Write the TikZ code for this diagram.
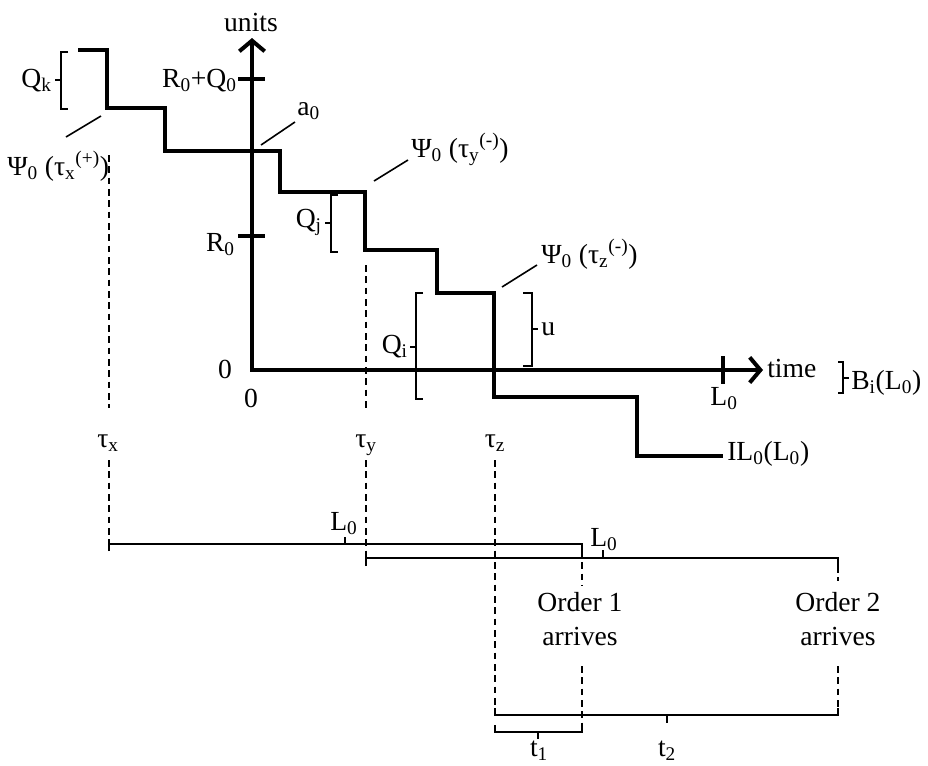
\documentclass[tikz,border=0pt]{standalone}
\usepackage{fontspec}
\setmainfont{Liberation Serif}
\usetikzlibrary{arrows.meta}
\newcommand{\lo}[1]{\textsubscript{#1}}
\newcommand{\hi}[1]{\textsuperscript{#1}}
\begin{document}
\begin{tikzpicture}[x=0.75pt,y=-0.75pt,every node/.style={font=\fontsize{20.7}{25}\selectfont,inner sep=0pt},
  stair/.style={line width=3pt},
  axis/.style={line width=3pt,{Straight Barb[length=8pt,width=19pt]}-{Straight Barb[length=8pt,width=19pt]}},
  thin/.style={line width=1.2pt},
  guide/.style={line width=1.5pt,dash pattern=on 5pt off 3.5pt}]
\useasboundingbox (0,0) rectangle (928,765);
% axes
\draw[axis] (252,38) -- (252,370) -- (763,370);
\draw[stair] (238,79)--(265,79) (238,236)--(265,236) (723,356)--(723,384);
\node[anchor=base] (units) at (251,31) {units};
\node[anchor=base west] (time) at (767,377) {time};
\node[anchor=base east] (rq) at (237,87) {R\lo{0}+Q\lo{0}};
\node[anchor=base east] (r) at (235,251) {R\lo{0}};
\node[anchor=base] (zl) at (225,378) {0};
\node[anchor=base] (zb) at (251,407) {0};
\node[anchor=base] (lax) at (724,405) {L\lo{0}};
% inventory level
\draw[stair] (78,50) -| (107,108) -| (165,151) -| (280,192) -| (365,250) -| (437,293) -| (494,397) -| (637,456) -- (723,456);
\node[anchor=base west] (il) at (727,460) {IL\lo{0}(L\lo{0})};
% leaders
\node[anchor=base west] (a) at (297,115) {a\lo{0}};
\node[anchor=base west] (px) at (7,175) {Ψ\lo{0} (τ\lo{x}\hi{(+)})};
\node[anchor=base west] (py) at (411,157) {Ψ\lo{0} (τ\lo{y}\hi{(-)})};
\node[anchor=base west] (pz) at (541,263) {Ψ\lo{0} (τ\lo{z}\hi{(-)})};
\coordinate (a1) at (261,145); \coordinate (a2) at (295,122);
\coordinate (x1) at (66,137); \coordinate (x2) at (101,116);
\coordinate (y1) at (374,181); \coordinate (y2) at (408,160);
\coordinate (z1) at (502,287); \coordinate (z2) at (537,265);
\draw[thin] (a1)--(a2) (x1)--(x2) (y1)--(y2) (z1)--(z2);
% brackets
\draw[thin] (68,52) -| (61,109) -- (68,109) (61,80) -- (55,80);
\node[anchor=base east] (qk) at (52,87) {Q\lo{k}};
\draw[thin] (338,195) -| (331,252) -- (338,252) (331,223) -- (325,223);
\node[anchor=base east] (qj) at (322,227) {Q\lo{j}};
\draw[thin] (423,293) -| (416,399) -- (423,399) (416,347) -- (410,347);
\node[anchor=base east] (qi) at (408,353) {Q\lo{i}};
\draw[thin] (523,293) -| (532,366) -- (523,366) (532,329) -- (538,329);
\node[anchor=base west] (u) at (541,335) {u};
\draw[thin] (838,362) -| (843,393) -- (838,393) (843,378) -- (849,378);
\node[anchor=base west] (b) at (851,389) {B\lo{i}(L\lo{0})};
% times
\node[anchor=base] (tx) at (108,447) {τ\lo{x}};
\node[anchor=base] (ty) at (366,447) {τ\lo{y}};
\node[anchor=base] (tz) at (495,447) {τ\lo{z}};
\draw[guide] (109,155)--(109,408) (109,460)--(109,544);
\draw[guide] (366,265)--(366,408) (366,460)--(366,558);
\draw[guide] (495,460)--(495,708);
\draw[guide] (582,551)--(582,586) (582,666)--(582,725);
\draw[guide] (838,566)--(838,581) (838,666)--(838,708);
% lead time spans
\draw[thin] (109,551) |- (582,544) -- (582,551) (345,544) -- (345,537);
\node[anchor=base west] (l1) at (330,530) {L\lo{0}};
\draw[thin] (366,566) |- (838,558) -- (838,566) (603,558) -- (603,550);
\node[anchor=base west] (l2) at (590,546) {L\lo{0}};
\node[align=center] (o1) at (580,619) {Order 1\\arrives};
\node[align=center] (o2) at (838,619) {Order 2\\arrives};
\draw[thin] (495,708) |- (838,715) -- (838,708) (667,715) -- (667,723);
\draw[thin] (495,725) |- (582,732) -- (582,725) (538,732) -- (538,739);
\node[anchor=base] (t1) at (539,756) {t\lo{1}};
\node[anchor=base] (t2) at (667,756) {t\lo{2}};
\end{tikzpicture}
\end{document}
